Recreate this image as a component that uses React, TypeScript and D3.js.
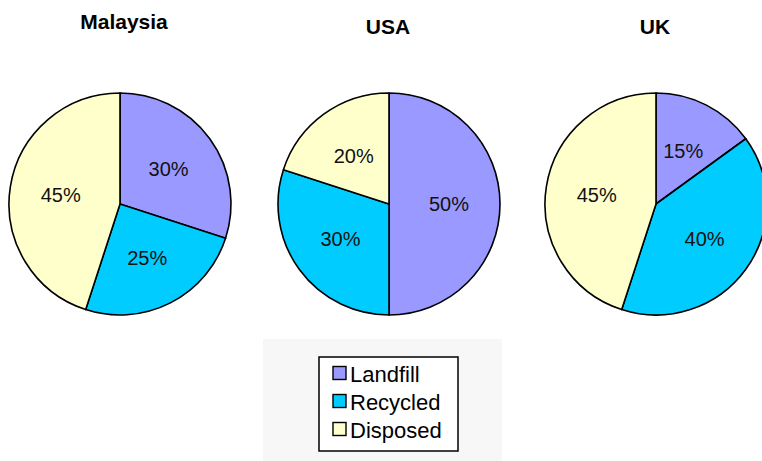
import React from 'react';
import * as d3 from 'd3';

const categories = ['Landfill', 'Recycled', 'Disposed'];
const countries = ['Malaysia', 'USA', 'UK'];
const malaysiaValues = [30, 25, 45];
const usaValues = [50, 30, 20];
const ukValues = [15, 40, 45];
const colors = ['#9999FF', '#00CCFF', '#FFFFCC'];

class Chart extends React.Component {
	componentDidMount() {
		this.drawChart();
	}

	drawChart() {
		const w = 762;
		const h = 461;
		const r = 111;
		const font = 'Arial, "Liberation Sans", sans-serif';

		d3.select('#chart').selectAll('*').remove();

		const svg = d3
			.select('#chart')
			.append('svg')
			.attr('width', w)
			.attr('height', h)
			.style('position', 'absolute')
			.style('left', 0)
			.style('top', 0);

		svg.append('rect').attr('width', w).attr('height', h).attr('fill', 'white');

		const series = [malaysiaValues, usaValues, ukValues];
		const cx = [120, 389, 656];
		const cy = 204;
		const titleX = [124, 388, 655];
		const titleY = [29, 34, 34];

		const color = d3.scaleOrdinal<string, string>().domain(categories).range(colors);

		const pie = d3
			.pie<number>()
			.sort(null)
			.value(d => d);

		const arc = d3
			.arc<d3.PieArcDatum<number>>()
			.innerRadius(0)
			.outerRadius(r);

		const labelArc = d3
			.arc<d3.PieArcDatum<number>>()
			.innerRadius(60)
			.outerRadius(60);

		series.forEach((values, i) => {
			svg
				.append('text')
				.text(countries[i])
				.attr('x', titleX[i])
				.attr('y', titleY[i])
				.attr('text-anchor', 'middle')
				.attr('font-family', font)
				.attr('font-weight', 'bold')
				.attr('font-size', '21px')
				.attr('fill', '#000');

			const g = svg.append('g').attr('transform', `translate(${cx[i]},${cy})`);
			const arcs = pie(values);

			g.selectAll('path')
				.data(arcs)
				.enter()
				.append('path')
				.attr('d', arc)
				.attr('fill', (d, j) => color(categories[j]))
				.attr('stroke', '#000')
				.attr('stroke-width', 1.6)
				.attr('stroke-linejoin', 'round');

			g.selectAll('text')
				.data(arcs)
				.enter()
				.append('text')
				.text(d => d.data + '%')
				.attr('x', d => labelArc.centroid(d)[0])
				.attr('y', d => labelArc.centroid(d)[1])
				.attr('dy', '0.36em')
				.attr('text-anchor', 'middle')
				.attr('font-family', font)
				.attr('font-size', '20px')
				.attr('fill', '#111');
		});

		// legend
		svg
			.append('rect')
			.attr('x', 263)
			.attr('y', 339)
			.attr('width', 239)
			.attr('height', 122)
			.attr('fill', '#F7F7F7');

		svg
			.append('rect')
			.attr('x', 319)
			.attr('y', 357)
			.attr('width', 139)
			.attr('height', 94)
			.attr('fill', 'white')
			.attr('stroke', '#000')
			.attr('stroke-width', 1.5);

		const legendY = d3
			.scalePoint()
			.domain(categories)
			.range([373, 429]);

		const items = svg
			.selectAll('g.legend')
			.data(categories)
			.enter()
			.append('g')
			.attr('class', 'legend')
			.attr('transform', d => `translate(333,${legendY(d)})`);

		items
			.append('rect')
			.attr('x', 0)
			.attr('y', -6.5)
			.attr('width', 13)
			.attr('height', 13)
			.attr('fill', d => color(d))
			.attr('stroke', '#000')
			.attr('stroke-width', 1.4);

		items
			.append('text')
			.text(d => d)
			.attr('x', 17)
			.attr('y', 8.5)
			.attr('font-family', font)
			.attr('font-size', '22px')
			.attr('fill', '#000');
	}

	render() {
		return <div id="chart" />;
	}
}

export default function App() {
	return <Chart />;
}
